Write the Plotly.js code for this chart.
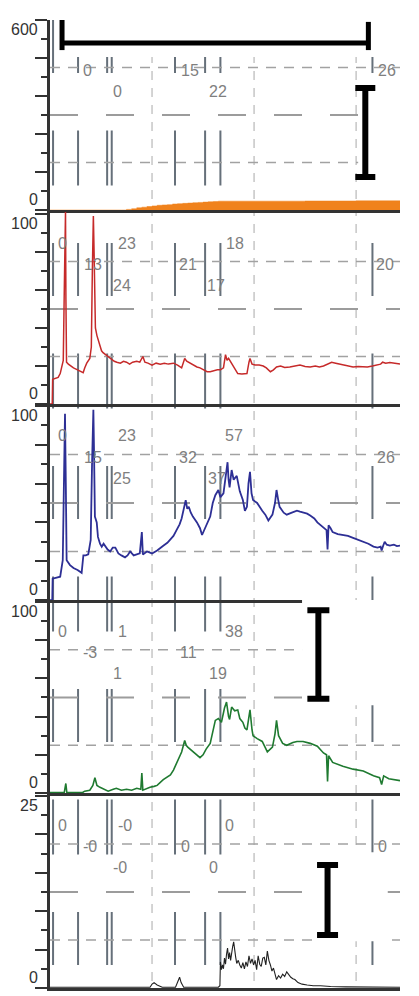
<!DOCTYPE html>
<html><head><meta charset="utf-8">
<script src="https://cdn.plot.ly/plotly-3.0.1.min.js"></script>
<style>html,body{margin:0;padding:0;background:#fff}#chart{width:419px;height:996px}</style>
</head><body><div id="chart"></div>
<script>
// ---------- data ----------
const orangeSeries = [[0,0],[7.0,0],[7.5,2],[8.0,4],[8.5,7],[9.0,9],[9.5,11],[10.0,13],[10.5,15],[11.0,16],[11.5,17],[12.0,19],[12.5,20],[13.0,21],[13.5,22],[14.0,23],[14.5,24],[15.0,25],[15.5,26],[16.0,27],[16.5,28],[17.0,28],[20,28],[25,28.5],[30,29],[34.3,29]];

const redSeries = [[0,0],[0.22,0],[0.26,13],[0.5,13.5],[0.8,14],[1.0,16],[1.15,19.5],[1.3,23],[1.4,60],[1.47,101],[1.52,101],[1.56,55],[1.62,22],[1.8,21],[2.0,20],[2.3,19],[2.7,18],[3.0,17],[3.25,16.5],[3.4,19],[3.6,21.5],[3.9,24],[4.05,30],[4.15,70],[4.25,99],[4.32,80],[4.45,40],[4.6,36],[4.75,33],[4.9,30],[5.05,28],[5.2,27],[5.45,26],[5.7,25],[6.0,23.5],[6.3,22.5],[6.55,22],[6.9,21.5],[7.2,22.5],[7.5,22],[7.8,21],[8.1,22],[8.5,22.5],[8.8,22],[9.1,25],[9.3,22],[9.6,21.5],[10.0,20.5],[10.4,21.5],[10.8,21],[11.2,21.5],[11.6,21],[12.1,21.5],[12.5,20.5],[12.9,19],[13.2,24],[13.4,22.5],[13.7,21.5],[14.0,20.5],[14.4,19.5],[14.7,19],[15.0,18],[15.4,17],[15.7,17],[16.0,17.5],[16.4,18],[16.7,18],[17.0,19],[17.2,26],[17.35,23],[17.5,24],[17.8,21.5],[18.1,19],[18.4,16],[18.8,15.8],[19.3,16],[19.5,22],[19.6,24],[19.8,21],[20.1,20.5],[20.5,20.5],[20.9,20],[21.2,19],[21.6,17],[21.9,18],[22.2,19.5],[22.6,20],[23.0,19.2],[23.5,19.5],[24.0,20],[24.5,20.5],[25.0,19.8],[25.5,19.5],[26.0,20],[26.4,19.5],[26.8,20],[27.2,21],[27.6,22],[28.0,21.5],[28.4,21],[28.7,21],[29.1,20.5],[29.4,19.8],[29.7,19.5],[30.2,19.8],[30.7,19.5],[31.1,19.5],[31.6,20],[32.1,20.5],[32.4,21],[32.6,22],[32.9,21.5],[33.3,21.8],[33.8,21.2],[34.3,21]];

const blueSeries = [[0,0],[0.22,0],[0.26,11],[0.6,11.5],[1.0,12],[1.25,20.5],[1.38,60],[1.47,96],[1.55,60],[1.63,20.5],[1.96,18],[2.3,16.5],[2.7,15.5],[3.1,14],[3.27,23],[3.5,23],[3.75,23.5],[3.99,31],[4.12,70],[4.25,98],[4.32,75],[4.4,43],[4.58,40],[4.7,32.5],[4.9,29],[5.07,27.5],[5.25,29],[5.4,28],[5.65,26],[5.9,25],[6.15,27],[6.4,27],[6.7,24],[7.0,23],[7.35,22],[7.6,23],[7.85,25],[8.2,23],[8.5,23.5],[8.8,24],[9.0,35],[9.1,23.5],[9.5,25],[10.0,24],[10.5,25.5],[10.8,27],[11.1,28],[11.5,29.5],[11.8,31],[12.1,33],[12.4,36],[12.7,39],[12.9,42],[13.1,47],[13.3,51.5],[13.45,47],[13.6,48],[13.8,45],[14.0,43],[14.4,40],[14.7,37],[14.9,33.5],[15.2,37],[15.5,40],[15.7,43],[15.95,50],[16.2,54],[16.5,56.7],[16.7,53],[17.0,55],[17.2,63.4],[17.4,71],[17.5,62],[17.6,58],[17.8,67],[18.0,62],[18.3,64],[18.6,56],[18.9,51.5],[19.1,46],[19.3,48],[19.45,60],[19.6,66],[19.75,55],[19.9,51.5],[20.3,50],[20.8,46],[21.1,44],[21.4,41],[21.8,44],[22.05,50],[22.2,56.7],[22.35,52],[22.5,48],[22.9,45],[23.2,44],[23.7,45],[24.2,46],[24.5,45.5],[24.8,45],[25.2,44.5],[25.5,43.5],[25.9,42],[26.2,40],[26.5,38.5],[26.8,37.5],[27.1,36],[27.2,26],[27.3,38.5],[27.5,37],[27.7,35],[28.2,34],[28.7,33.5],[29.2,33],[29.7,32],[30.2,31],[30.7,30],[31.2,29],[31.7,27.5],[32.1,27],[32.4,27.5],[32.5,25.5],[32.65,28],[32.8,30],[33.0,28.5],[33.3,28],[33.7,28.5],[34.0,27.8],[34.3,28]];

const greenSeries = [[0,0.3],[1.4,0.3],[1.55,5],[1.65,0.3],[3.2,0.3],[3.4,1],[3.9,1.5],[4.2,4],[4.4,8],[4.6,4],[4.9,3],[5.3,2],[5.7,1],[6.2,2],[6.5,2.5],[7.0,1.5],[7.5,2],[8.0,1.5],[8.5,2.5],[8.9,2],[9.0,10.5],[9.1,1.5],[9.5,2.5],[9.8,3],[10.2,3.5],[10.5,4],[11.1,7],[11.8,9.5],[12.1,12],[12.4,15.5],[12.9,21.5],[13.2,27.5],[13.35,25],[13.5,24],[14.0,21.5],[14.4,20],[14.7,18.5],[15.0,20],[15.3,23],[15.7,26],[15.95,33],[16.2,38],[16.5,39],[16.8,37],[17.1,44.5],[17.3,47.6],[17.5,40],[17.6,38.5],[17.8,45],[18.1,43],[18.4,43.5],[18.6,39],[18.9,37],[19.1,34],[19.3,33],[19.5,41],[19.6,43.5],[19.8,33],[19.9,30],[20.3,28.5],[20.8,27],[21.3,21.5],[21.8,24],[22.05,31],[22.2,38],[22.4,30],[22.8,26],[23.2,25],[23.8,26.5],[24.2,27],[24.8,27],[25.5,26],[26.2,24.5],[26.8,21],[27.1,20],[27.2,6],[27.3,19.5],[27.7,16],[28.2,15],[28.7,14],[29.7,12.5],[30.7,11.5],[31.7,9],[32.3,8],[32.5,4.5],[32.7,9],[33.2,7.5],[33.7,7],[34.3,6.5]];

const blackSeries = [[0,0.1],[4,0.1],[8,0.1],[9.8,0.1],[10.0,0.5],[10.2,0.7],[10.5,0.4],[11.0,0.1],[12.3,0.1],[12.55,0.8],[12.7,1.4],[12.85,0.7],[13.1,0.1],[16.5,0.1],[16.65,0.3],[16.7,3.4],[16.8,2.4],[16.9,3.0],[17.0,2.5],[17.1,3.9],[17.2,3.1],[17.3,4.4],[17.4,5.2],[17.5,3.8],[17.6,4.6],[17.7,3.6],[17.8,4.8],[17.9,5.4],[18.0,6.0],[18.1,4.5],[18.2,4.0],[18.3,3.2],[18.45,3.6],[18.6,3.0],[18.75,2.6],[18.9,3.3],[19.05,2.5],[19.2,3.4],[19.35,2.8],[19.5,4.2],[19.65,3.2],[19.8,3.8],[19.95,3.0],[20.1,3.6],[20.25,2.4],[20.4,4.2],[20.55,3.1],[20.7,2.8],[20.85,3.9],[21.0,4.0],[21.15,3.0],[21.3,4.8],[21.45,3.6],[21.6,3.0],[21.75,2.2],[21.9,2.6],[22.05,1.6],[22.2,1.1],[22.4,1.6],[22.6,1.3],[22.8,1.8],[23.0,1.5],[23.2,2.1],[23.4,1.7],[23.6,1.4],[23.8,1.2],[24.0,1.1],[24.3,0.7],[24.7,0.5],[25.2,0.4],[25.8,0.3],[26.5,0.3],[27.5,0.2],[29,0.15],[31,0.1],[34.3,0.1]];

// panel scale values (tick labels only at the ends)
const panelMax = [600, 100, 100, 100, 25];
const tickLabelTop = ['600', '100', '100', '100', '25'];
const tickLabelBottom = ['0', '0', '0', '0', '0'];

// event marker times (grey vertical marks) and grid times
const markerTimes = [0.3, 2.75, 5.6, 6.05, 12.25, 15.2, 16.7, 31.6];
const gridTimes = [10, 20, 30];

// in-panel number labels
const labelTexts = [
  ['0','15','26','0','22'],
  ['0','23','18','13','21','20','24','17'],
  ['0','23','57','15','32','26','25','37'],
  ['0','1','38','-3','11','1','19'],
  ['0','-0','0','-0','0','0','-0','0']
];
const labelTimes = [
  [3.63, 13.73, 33.04, 6.57, 16.47],
  [1.18, 7.55, 18.14, 4.22, 13.53, 32.84, 7.06, 16.27],
  [1.18, 7.55, 18.04, 4.22, 13.53, 32.94, 7.06, 16.37],
  [1.18, 7.06, 18.04, 3.92, 13.53, 6.57, 16.47],
  [1.18, 7.35, 17.55, 3.92, 13.24, 32.55, 6.86, 15.98]
];
const labelRows = [
  [1,1,1,2,2],
  [0,0,0,1,1,1,2,2],
  [0,0,0,1,1,1,2,2],
  [0,0,0,1,1,2,2],
  [0,0,0,1,1,1,2,2]
];

// scale-bar glyphs
const bracketX = [1.18, 1.18, null, 1.18, 31.2, null, 31.2, 31.2];
const bracketY = [600, 505, null, 527, 527, null, 594, 505];
const iPanel = [0, 3, 4];
const iX = [30.9, 26.3, 27.2];
const iY = [244.7, 72.5, 11.46];
const iHalf = [140.5, 23.2, 4.56];
const iCap = [10, 11, 10.5];

// white boxes behind the glyphs
const maskPanel = [0, 0, 3, 4];
const maskX0 = [0.8, 30.2, 24.7, 26.0];
const maskX1 = [32.0, 36, 36, 33.1];
const maskY0 = [483, 47, 46, 6.1];
const maskY1 = [640, 426, 101, 17.7];

// ---------- layout helpers ----------
const X_RANGE = [0, 34.3];
const domains = [[0.8037,1],[0.6033,0.8037],[0.4008,0.6033],[0.2014,0.4008],[0,0.2014]];
const rangeTop = [600, 102.1, 101, 101, 25.4];
const rowFrac = [0.847, 0.736, 0.626];
const sfx = i => (i === 0 ? '' : String(i + 1));
const FONT = 'Liberation Sans, Arial, sans-serif';

const layout = {
  width: 419, height: 996,
  margin: {l: 50, r: 19, t: 20, b: 8, pad: 0},
  paper_bgcolor: '#ffffff',
  plot_bgcolor: 'rgba(0,0,0,0)',
  showlegend: false,
  font: {family: FONT, color: '#333'},
  shapes: [],
  annotations: []
};

for (let i = 0; i < 5; i++) {
  const m = panelMax[i];
  layout['xaxis' + sfx(i)] = {
    domain: [0, 1], range: X_RANGE, anchor: 'y' + sfx(i),
    showline: true, linecolor: '#333', linewidth: 3,
    ticks: '', showticklabels: false, showgrid: false, zeroline: false,
    fixedrange: true
  };
  const major = [0, 0.2, 0.4, 0.6, 0.8, 1].map(f => f * m);
  const minor = [0.1, 0.3, 0.5, 0.7, 0.9].map(f => f * m);
  layout['yaxis' + sfx(i)] = {
    domain: domains[i], range: [0, rangeTop[i]], anchor: 'x' + sfx(i),
    showline: true, linecolor: '#333', linewidth: 3,
    showgrid: false, zeroline: false,
    tickmode: 'array', tickvals: major, showticklabels: false,
    ticks: 'outside', ticklen: 12, tickwidth: 2, tickcolor: '#333',
    minor: {tickmode: 'array', tickvals: minor, ticks: 'outside', ticklen: 6, tickwidth: 2, tickcolor: '#333'},
    fixedrange: true
  };
  // end tick labels, kept inside the panel like the reference
  layout.annotations.push({
    xref: 'paper', yref: 'y' + sfx(i), x: 0, y: m, xanchor: 'right', yanchor: 'top',
    xshift: -10, yshift: 1, text: tickLabelTop[i], showarrow: false,
    font: {size: 16, color: '#333', family: FONT}
  });
  layout.annotations.push({
    xref: 'paper', yref: 'y' + sfx(i), x: 0, y: 0, xanchor: 'right', yanchor: 'bottom',
    xshift: -10, yshift: 0, text: tickLabelBottom[i], showarrow: false,
    font: {size: 16, color: '#333', family: FONT}
  });
  // horizontal dashed guide lines at 25/50/75 %
  [0.25, 0.5, 0.75].forEach(f => {
    layout.shapes.push({
      type: 'line', layer: 'below', xref: 'x' + sfx(i), yref: 'y' + sfx(i),
      x0: X_RANGE[0], x1: X_RANGE[1], y0: f * m, y1: f * m,
      line: f === 0.5 ? {color: '#9c9c9c', width: 2, dash: '28px,28px'}
                      : {color: '#a2a2a2', width: 1.5, dash: '10px,8px'}
    });
  });
  // labels
  labelTexts[i].forEach((t, k) => {
    layout.annotations.push({
      xref: 'x' + sfx(i), yref: 'y' + sfx(i),
      x: labelTimes[i][k], y: rowFrac[labelRows[i][k]] * m,
      text: t, showarrow: false, xanchor: 'center', yanchor: 'middle',
      font: {size: 16, color: '#7f7f7f', family: FONT}
    });
  });
}

// vertical grid lines across all panels
gridTimes.forEach(g => layout.shapes.unshift({
  type: 'line', layer: 'below', xref: 'x', yref: 'paper',
  x0: g, x1: g, y0: 1, y1: 0,
  line: {color: '#c6c6c6', width: 1.5, dash: '9px,8px'}
}));
// grey event marks
markerTimes.forEach(t => layout.shapes.push({
  type: 'line', layer: 'below', xref: 'x', yref: 'paper',
  x0: t, x1: t, y0: 1, y1: 0,
  line: {color: '#66707a', width: 2, dash: '53px,57.5px,55px,57.5px'}
}));
// white masks
maskPanel.forEach((p, k) => layout.shapes.push({
  type: 'rect', layer: 'below', xref: 'x' + sfx(p), yref: 'y' + sfx(p),
  x0: maskX0[k], x1: maskX1[k], y0: maskY0[k], y1: maskY1[k],
  fillcolor: '#ffffff', line: {width: 0}
}));

// ---------- traces ----------
const xs = s => s.map(p => p[0]);
const ys = s => s.map(p => p[1]);
const traces = [
  {x: xs(orangeSeries), y: ys(orangeSeries), xaxis: 'x', yaxis: 'y', type: 'scatter', mode: 'lines',
   line: {color: '#f0821c', width: 0.5, shape: 'hv'}, fill: 'tozeroy', fillcolor: '#f0821c', hoverinfo: 'skip'},
  {x: xs(redSeries), y: ys(redSeries), xaxis: 'x2', yaxis: 'y2', type: 'scatter', mode: 'lines',
   line: {color: '#c62a2a', width: 1.5}},
  {x: xs(blueSeries), y: ys(blueSeries), xaxis: 'x3', yaxis: 'y3', type: 'scatter', mode: 'lines',
   line: {color: '#2d2f95', width: 1.8}},
  {x: xs(greenSeries), y: ys(greenSeries), xaxis: 'x4', yaxis: 'y4', type: 'scatter', mode: 'lines',
   line: {color: '#1f7a30', width: 1.6}},
  {x: xs(blackSeries), y: ys(blackSeries), xaxis: 'x5', yaxis: 'y5', type: 'scatter', mode: 'lines',
   line: {color: '#222', width: 1.1}},
  {x: bracketX, y: bracketY, xaxis: 'x', yaxis: 'y', type: 'scatter', mode: 'lines',
   line: {color: '#000', width: 5}, connectgaps: false}
];
iPanel.forEach((p, k) => traces.push({
  x: [iX[k]], y: [iY[k]], xaxis: 'x' + sfx(p), yaxis: 'y' + sfx(p), type: 'scatter', mode: 'markers',
  marker: {size: 1, color: 'rgba(0,0,0,0)'},
  error_y: {type: 'data', array: [iHalf[k]], symmetric: true, thickness: 6, width: iCap[k], color: '#000'}
}));

Plotly.newPlot('chart', traces, layout, {staticPlot: true, displayModeBar: false});
</script></body></html>
